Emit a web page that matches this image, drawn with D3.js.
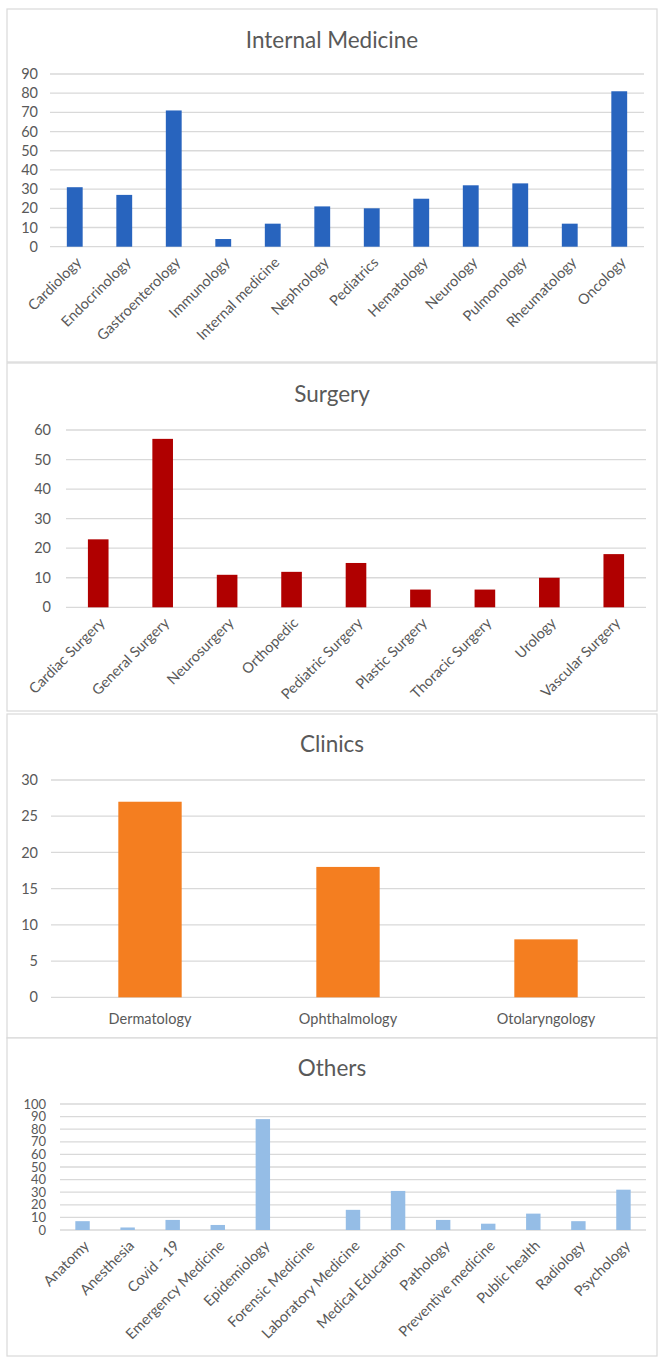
<!DOCTYPE html>
<html>
<head>
<meta charset="utf-8">
<script src="https://cdn.jsdelivr.net/npm/d3@7"></script>
<style>
  body { margin: 0; background: #fff; }
  text { font-family: Lato, 'Open Sans', sans-serif; fill: #595959; }
</style>
</head>
<body>
<div id="chart"></div>
<script>
'use strict';

// data
const internal_categories = ['Cardiology', 'Endocrinology', 'Gastroenterology', 'Immunology', 'Internal medicine',
  'Nephrology', 'Pediatrics', 'Hematology', 'Neurology', 'Pulmonology', 'Rheumatology', 'Oncology']
const internal_values = [31, 27, 71, 4, 12, 21, 20, 25, 32, 33, 12, 81]
const internal_ticks = [0, 10, 20, 30, 40, 50, 60, 70, 80, 90]

const surgery_categories = ['Cardiac Surgery', 'General Surgery', 'Neurosurgery', 'Orthopedic', 'Pediatric Surgery',
  'Plastic Surgery', 'Thoracic Surgery', 'Urology', 'Vascular Surgery']
const surgery_values = [23, 57, 11, 12, 15, 6, 6, 10, 18]
const surgery_ticks = [0, 10, 20, 30, 40, 50, 60]

const clinics_categories = ['Dermatology', 'Ophthalmology', 'Otolaryngology']
const clinics_values = [27, 18, 8]
const clinics_ticks = [0, 5, 10, 15, 20, 25, 30]

const others_categories = ['Anatomy', 'Anesthesia', 'Covid - 19', 'Emergency Medicine', 'Epidemiology',
  'Forensic Medicine', 'Laboratory Medicine', 'Medical Education', 'Pathology', 'Preventive medicine',
  'Public health', 'Radiology', 'Psychology']
const others_values = [7, 2, 8, 4, 88, 0, 16, 31, 8, 5, 13, 7, 32]
const others_ticks = [0, 10, 20, 30, 40, 50, 60, 70, 80, 90, 100]

// panel layout
const panels = [
  { title: 'Internal Medicine', cats: internal_categories, vals: internal_values, ticks: internal_ticks,
    color: '#2864BE', box: [7, 9, 657, 362], title_y: 48, x0: 50, x1: 644, y_top: 74, y_bot: 246.7,
    label_x: 38, tick_font: 14.5, rotate: true },
  { title: 'Surgery', cats: surgery_categories, vals: surgery_values, ticks: surgery_ticks,
    color: '#B00000', box: [7, 363, 657, 711], title_y: 402, x0: 66, x1: 646, y_top: 430, y_bot: 607.3,
    label_x: 51, tick_font: 14.5, rotate: true },
  { title: 'Clinics', cats: clinics_categories, vals: clinics_values, ticks: clinics_ticks,
    color: '#F47E20', box: [7, 714, 657, 1038], title_y: 752, x0: 51, x1: 645, y_top: 780, y_bot: 997.3,
    label_x: 38, tick_font: 14.5, rotate: false },
  { title: 'Others', cats: others_categories, vals: others_values, ticks: others_ticks,
    color: '#95BDE6', box: [7, 1038, 657, 1356], title_y: 1076, x0: 60, x1: 646, y_top: 1104, y_bot: 1230,
    label_x: 46, tick_font: 13, rotate: true }
]

const svg = d3.select('#chart').append('svg')
  .attr('width', 659)
  .attr('height', 1358)

panels.forEach(function(p){
  const g = svg.append('g')

  g.append('rect')
    .attr('x', p.box[0])
    .attr('y', p.box[1])
    .attr('width', p.box[2] - p.box[0])
    .attr('height', p.box[3] - p.box[1])
    .attr('fill', '#fff')
    .attr('stroke', '#D9D9D9')
    .attr('stroke-width', 1.2)

  g.append('text')
    .attr('x', (p.box[0] + p.box[2]) / 2)
    .attr('y', p.title_y)
    .attr('text-anchor', 'middle')
    .style('font-size', '22.5px')
    .text(p.title)

  const xScale = d3.scaleBand()
    .domain(p.cats)
    .range([p.x0, p.x1])
    .paddingInner(0.68)
    .paddingOuter(0.34)

  const yScale = d3.scaleLinear()
    .domain([0, d3.max(p.ticks)])
    .range([p.y_bot, p.y_top])

  // gridlines
  g.append('g')
    .selectAll('line')
    .data(p.ticks)
    .join('line')
    .attr('x1', p.x0)
    .attr('x2', p.x1)
    .attr('y1', d => yScale(d))
    .attr('y2', d => yScale(d))
    .attr('stroke', '#D9D9D9')
    .attr('stroke-width', 1.3)

  // y tick labels
  g.append('g')
    .selectAll('text')
    .data(p.ticks)
    .join('text')
    .attr('x', p.label_x)
    .attr('y', d => yScale(d))
    .attr('dy', '0.35em')
    .attr('text-anchor', 'end')
    .style('font-size', p.tick_font + 'px')
    .text(d => d)

  // bars
  g.append('g')
    .selectAll('rect')
    .data(p.cats)
    .join('rect')
    .attr('x', d => xScale(d))
    .attr('width', xScale.bandwidth())
    .attr('y', (d, i) => yScale(p.vals[i]))
    .attr('height', (d, i) => yScale(0) - yScale(p.vals[i]))
    .attr('fill', p.color)

  // category labels
  const lab = g.append('g')
    .selectAll('text')
    .data(p.cats)
    .join('text')
    .style('font-size', '14.5px')
    .text(d => d)

  if(p.rotate){
    lab
      .attr('text-anchor', 'end')
      .attr('dy', '0.35em')
      .attr('transform', d => {
        const cx = xScale(d) + xScale.bandwidth() / 2
        return `translate(${cx + 4},${yScale(0) + 13}) rotate(-45)`
      })
  }else {
    lab
      .attr('text-anchor', 'middle')
      .attr('x', d => xScale(d) + xScale.bandwidth() / 2)
      .attr('y', yScale(0) + 27)
  }
})
</script>
</body>
</html>
